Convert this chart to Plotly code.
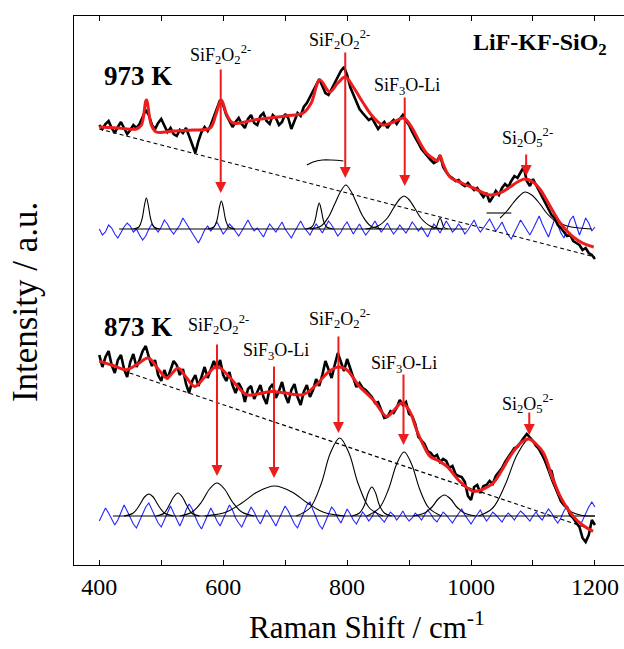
import plotly.graph_objects as go

FONT = "Liberation Serif"

# ---------------- 973 K ----------------
data973_start, data973_step = 400, 5
data973_y = [440, 436, 441, 444, 437, 432, 438, 443, 437, 431, 435, 440, 437, 441, 448, 455, 450, 440, 436, 442,
             446, 439, 433, 437, 431, 429, 435, 432, 437, 429, 421, 412, 424, 433, 438, 434, 440, 448, 456, 465,
             460, 450, 444, 438, 443, 447, 441, 437, 446, 450, 442, 440, 449, 452, 444, 441, 450, 447, 440, 443,
             451, 447, 436, 444, 452, 449, 458, 462, 468, 474, 481, 486, 479, 472, 470, 476, 482, 489, 494, 498,
             490, 478, 470, 462, 456, 452, 448, 445, 447, 441, 436, 440, 443, 437, 442, 445, 441, 446, 450, 444,
             440, 433, 428, 422, 416, 412, 408, 405, 402, 404, 410, 398, 393, 389, 387, 384, 385, 381, 379, 382,
             378, 375, 377, 373, 368, 372, 363, 368, 374, 370, 377, 381, 378, 384, 389, 387, 393, 398, 384, 379,
             386, 380, 374, 368, 362, 356, 350, 347, 340, 337, 333, 329, 330, 324, 322, 320, 315, 317, 312, 310, 306]

fit973_x = [400, 430, 460, 468, 476, 484, 492, 520, 550, 579, 588, 597, 606, 616, 650, 700, 729, 742, 756, 772,
            785, 797, 810, 826, 842, 858, 875, 891, 904, 916, 928, 940, 946, 950, 955, 966, 985, 1004, 1031, 1050,
            1063, 1075, 1087, 1100, 1111, 1122, 1133, 1144, 1155, 1165, 1180, 1198]
fit973_y = [438, 437, 436, 440, 465, 440, 433, 434, 435, 437, 450, 465, 450, 442, 445, 449, 452, 462, 485, 473,
            482, 488, 478, 462, 448, 440, 443, 447, 438, 424, 412, 406, 404, 409, 401, 388, 382, 377, 370, 373,
            378, 383, 386, 383, 376, 365, 353, 342, 334, 328, 322, 318]

resid973_start, resid973_step = 400, 5
resid973_y = [336, 330, 333, 340, 337, 331, 327, 333, 338, 342,
              339, 333, 336, 330, 325, 329, 336, 341, 337, 333,
              338, 345, 341, 335, 331, 336, 340, 347, 342, 336,
              332, 327, 322, 328, 335, 339, 334, 338, 343, 337,
              331, 335, 341, 338, 333, 329, 334, 340, 345, 339,
              334, 337, 332, 328, 335, 341, 337, 333, 338, 343,
              336, 331, 327, 333, 339, 344, 338, 334, 330, 336,
              341, 337, 332, 338, 344, 340, 335, 329, 333, 339,
              343, 337, 331, 336, 341, 335, 330, 334, 339, 344,
              338, 333, 337, 342, 336, 331, 335, 340, 336, 332,
              337, 343, 339, 334, 338, 333, 328, 335, 341, 337,
              332, 338, 344, 339, 333, 336, 341, 337, 331, 335,
              340, 345, 338, 333, 337, 342, 346, 340, 334, 338,
              343, 336, 330, 326, 332, 339, 345, 340, 335, 330,
              336, 343, 349, 341, 334, 328, 337, 346, 340, 332,
              327, 336, 345, 349, 339, 330, 338, 347, 342, 334,
              338]

base973 = 336
base973_x = [432, 993]
comp973_x = [[455, 464, 469, 473, 476, 479, 483, 488, 497],
             [575, 585, 590, 594, 597, 600, 604, 609, 619],
             [733, 743, 748, 752, 755, 758, 762, 767, 777],
             [740, 758, 770, 780, 790, 798, 806, 816, 826, 838, 856],
             [830, 850, 865, 875, 885, 892, 899, 909, 919, 934, 954],
             [938, 944, 947, 950, 953, 956, 962]]
comp973_dy = [[0, 2, 10, 24, 31, 24, 10, 2, 0],
              [0, 2, 9, 22, 28, 22, 9, 2, 0],
              [0, 2, 8, 20, 26, 20, 8, 2, 0],
              [0, 3, 12, 25, 38, 44, 38, 25, 12, 3, 0],
              [0, 3, 11, 21, 30, 33, 30, 21, 11, 3, 0],
              [0, 2, 7, 11, 7, 2, 0]]
# Si2O5 component and stray fragments (absolute values)
si2o5_973_x = [1047, 1058, 1068, 1078, 1087, 1098, 1110, 1122, 1136, 1155, 1175, 1195]
si2o5_973_y = [347, 354, 362, 369, 373, 370, 362, 352, 344, 339, 337, 336]
frag973a_x = [1025, 1065]
frag973a_y = [352, 352]
frag973b_x = [735, 745, 760, 775, 794]
frag973b_y = [400, 403, 405, 405, 404]

dash973_x = [400, 1200]
dash973_y = [436, 308]

# ---------------- 873 K ----------------
data873_start, data873_step = 400, 5
data873_y = [210, 198, 208, 214, 200, 192, 205, 210, 196, 188, 203, 211, 198, 205, 214, 219, 208, 199, 205, 190,
             184, 195, 186, 196, 204, 200, 190, 196, 181, 172, 184, 190, 179, 188, 198, 187, 196, 204, 196, 205,
             190, 184, 193, 180, 172, 182, 176, 163, 176, 179, 166, 174, 180, 168, 161, 177, 181, 167, 174, 183,
             170, 162, 175, 181, 168, 160, 173, 180, 168, 175, 186, 179, 190, 204, 196, 187, 200, 212, 203, 194,
             206, 196, 186, 178, 182, 177, 175, 171, 168, 162, 163, 155, 147, 148, 154, 152, 157, 165, 160, 163,
             151, 149, 141, 128, 125, 121, 114, 112, 108, 110, 103, 106, 104, 97, 99, 91, 89, 88, 83, 69,
             65, 78, 80, 72, 79, 80, 84, 81, 89, 93, 97, 103, 108, 112, 117, 118, 123, 127, 131, 128,
             124, 119, 116, 110, 104, 96, 94, 80, 71, 64, 60, 58, 50, 47, 42, 38, 27, 23, 30, 45, 40]

fit873_x = [400, 420, 444, 462, 479, 495, 509, 518, 527, 540, 554, 572, 590, 610, 638, 660, 678, 700, 729, 750,
            770, 786, 800, 810, 820, 842, 864, 876, 888, 900, 912, 923, 934, 948, 961, 982, 1004, 1020, 1036, 1050,
            1063, 1080, 1093, 1105, 1117, 1130, 1144, 1165, 1180, 1197]
fit873_y = [203.6, 200, 195.3, 201, 207, 196, 187, 192, 197, 188, 178.6, 189, 198.6, 188, 170.3, 171.5, 173.6, 172,
            170.3, 180, 193, 198, 195, 187, 178.6, 165.3, 148.6, 155, 162, 155, 135.3, 120, 108.6, 104, 98.6, 83.6,
            73.6, 76, 82, 95, 108.6, 122, 126, 121, 112, 90, 68.6, 48.6, 40, 33.6]

resid873_start, resid873_step = 400, 5
resid873_y = [44, 50, 57, 52, 46, 40, 45, 53, 60, 54,
              47, 41, 37, 44, 51, 58, 62, 55, 48, 42,
              38, 45, 53, 59, 52, 45, 39, 46, 55, 61,
              56, 48, 41, 36, 43, 50, 57, 51, 44, 39,
              46, 54, 60, 55, 47, 42, 38, 45, 52, 58,
              53, 46, 41, 48, 55, 50, 44, 39, 46, 53,
              59, 54, 47, 41, 37, 44, 52, 60, 63, 55,
              47, 40, 36, 43, 51, 58, 54, 47, 42, 49,
              56, 51, 45, 41, 47, 53, 49, 44, 48, 54,
              50, 46, 43, 48, 53, 50, 45, 49, 54, 48,
              44, 47, 52, 49, 45, 50, 55, 51, 46, 43,
              48, 53, 50, 46, 42, 47, 52, 56, 50, 45,
              41, 46, 51, 55, 49, 44, 48, 53, 50, 46,
              43, 48, 52, 49, 45, 50, 54, 51, 47, 44,
              49, 53, 48, 45, 51, 56, 52, 46, 42, 47,
              54, 59, 53, 47, 42, 38, 45, 52, 58, 63,
              58]

base873 = 49
base873_x = [422, 1200]
comp873_x = [[440, 455, 465, 473, 480, 487, 495, 505, 520],
             [492, 505, 513, 520, 527, 534, 541, 549, 562],
             [530, 550, 565, 578, 590, 602, 615, 630, 650],
             [570, 605, 630, 655, 683, 711, 736, 761, 796],
             [718, 740, 758, 773, 788, 803, 818, 836, 858],
             [808, 820, 828, 834, 840, 846, 852, 860, 872],
             [832, 852, 867, 880, 892, 904, 917, 932, 952],
             [907, 925, 937, 947, 957, 967, 977, 989, 1007],
             [1012, 1035, 1055, 1075, 1094, 1113, 1133, 1153, 1176, 1200]]
comp873_dy = [[0, 3, 11, 19, 22, 19, 11, 3, 0],
              [0, 3, 11, 19, 23, 19, 11, 3, 0],
              [0, 4, 14, 27, 33, 27, 14, 4, 0],
              [0, 4, 13, 24, 30, 24, 13, 4, 0],
              [0, 8, 32, 63, 78, 63, 32, 8, 0],
              [0, 3, 11, 23, 29, 23, 11, 3, 0],
              [0, 8, 27, 52, 64, 52, 27, 8, 0],
              [0, 3, 9, 17, 21, 17, 9, 3, 0],
              [0, 8, 31, 62, 77, 62, 31, 8, 1, 0]]

dash873_x = [449, 1197]
dash873_y = [192, 35]

# ---------------- labels / arrows ----------------
SIF2O2 = "SiF<sub>2</sub>O<sub>2</sub><sup>2-</sup>"
SIF3OLI = "SiF<sub>3</sub>O-Li"
SI2O5 = "Si<sub>2</sub>O<sub>5</sub><sup>2-</sup>"

arrow_x = [596, 797, 893, 1089, 590, 682, 786, 891, 1094]
arrow_tip = [372, 387, 379, 389, 89, 87, 132, 120, 130]
arrow_tail = [497, 514, 469, 412, 222, 200, 230, 192, 154]

label_text = [SIF2O2, SIF2O2, SIF3OLI, SI2O5, SIF2O2, SIF3OLI, SIF2O2, SIF3OLI, SI2O5]
label_x = [595, 788, 896, 1091, 592, 686, 787, 892, 1091]
label_y = [511, 526, 479, 428, 241, 214, 247, 201, 162]

temp_text = ["973 K", "873 K"]
temp_x = [462, 462]
temp_y = [489, 238]

RED = "#ee1c1c"
BLUE = "#2424ff"

fig = go.Figure()


def xs(start, step, n):
    return [start + step * i for i in range(n)]


def line(x, y, color, width, dash=None, shape="linear"):
    fig.add_trace(go.Scatter(x=x, y=y, mode="lines", line=dict(color=color, width=width, dash=dash, shape=shape),
                             hoverinfo="skip", showlegend=False))


# residuals
line(xs(resid973_start, resid973_step, len(resid973_y)), resid973_y, BLUE, 1.1)
line(xs(resid873_start, resid873_step, len(resid873_y)), resid873_y, BLUE, 1.1)

# component baselines and components
line(base973_x, [base973, base973], "black", 1.1)
line(base873_x, [base873, base873], "black", 1.1)
for cx, cdy in zip(comp973_x, comp973_dy):
    line(cx, [base973 + d for d in cdy], "black", 1.1, shape="spline")
for cx, cdy in zip(comp873_x, comp873_dy):
    line(cx, [base873 + d for d in cdy], "black", 1.1, shape="spline")
line(si2o5_973_x, si2o5_973_y, "black", 1.1, shape="spline")
line(frag973a_x, frag973a_y, "black", 1.1)
line(frag973b_x, frag973b_y, "black", 1.1, shape="spline")

# dashed baselines
line(dash973_x, dash973_y, "black", 1.2, dash="4px,3px")
line(dash873_x, dash873_y, "black", 1.2, dash="4px,3px")

# measured data
line(xs(data973_start, data973_step, len(data973_y)), data973_y, "black", 2.6)
line(xs(data873_start, data873_step, len(data873_y)), data873_y, "black", 2.6)

# fits
line(fit973_x, fit973_y, RED, 3, shape="spline")
line(fit873_x, fit873_y, RED, 3, shape="spline")

# dummy trace for the top axis
fig.add_trace(go.Scatter(x=[400], y=[0], xaxis="x2", mode="markers", marker=dict(opacity=0),
                         hoverinfo="skip", showlegend=False))

annotations = []
for ax_, tip, tail in zip(arrow_x, arrow_tip, arrow_tail):
    annotations.append(dict(x=ax_, y=tip, ax=ax_, ay=tail, xref="x", yref="y", axref="x", ayref="y",
                            text="", showarrow=True, arrowhead=2, arrowsize=1.1, arrowwidth=2,
                            arrowcolor=RED, standoff=0, startstandoff=0))
for t, lx, ly in zip(label_text, label_x, label_y):
    annotations.append(dict(x=lx, y=ly, xref="x", yref="y", text=t, showarrow=False,
                            xanchor="center", yanchor="middle",
                            font=dict(family=FONT, size=18, color="black")))
for t, lx, ly in zip(temp_text, temp_x, temp_y):
    annotations.append(dict(x=lx, y=ly, xref="x", yref="y", text="<b>" + t + "</b>", showarrow=False,
                            xanchor="center", yanchor="middle",
                            font=dict(family=FONT, size=27, color="black")))
annotations.append(dict(x=1112, y=521, xref="x", yref="y", text="<b>LiF-KF-SiO<sub>2</sub></b>",
                        showarrow=False, xanchor="center", yanchor="middle",
                        font=dict(family=FONT, size=24, color="black")))
# axis titles
annotations.append(dict(x=0.532, y=-0.111, xref="paper", yref="paper", text="Raman Shift / cm<sup>-1</sup>",
                        showarrow=False, xanchor="center", yanchor="middle",
                        font=dict(family=FONT, size=31, color="black")))
annotations.append(dict(x=-0.089, y=0.479, xref="paper", yref="paper", text="Intensity / a.u.",
                        textangle=-90, showarrow=False, xanchor="center", yanchor="middle",
                        font=dict(family=FONT, size=35, color="black")))

tick_vals = [400, 500, 600, 700, 800, 900, 1000, 1100, 1200]
tick_text = ["400", "", "600", "", "800", "", "1000", "", "1200"]
x_range = [359.2, 1246.9]

fig.update_layout(
    width=624, height=649,
    margin=dict(l=74, r=0, t=16, b=84, pad=0),
    paper_bgcolor="white", plot_bgcolor="white",
    showlegend=False,
    annotations=annotations,
    xaxis=dict(range=x_range, tickvals=tick_vals, ticktext=tick_text, ticks="inside", ticklen=5,
               tickwidth=1.3, tickcolor="black", showline=True, linecolor="black", linewidth=1.3,
               showgrid=False, zeroline=False, tickfont=dict(family=FONT, size=24, color="black")),
    xaxis2=dict(range=x_range, overlaying="x", side="top", tickvals=tick_vals, ticks="inside", ticklen=5,
                tickwidth=1.3, tickcolor="black", showline=True, linecolor="black", linewidth=1.3,
                showgrid=False, zeroline=False, showticklabels=False),
    yaxis=dict(range=[0, 549], showline=True, linecolor="black", linewidth=1.3, ticks="",
               showticklabels=False, showgrid=False, zeroline=False),
)

fig.write_html("out.html")
